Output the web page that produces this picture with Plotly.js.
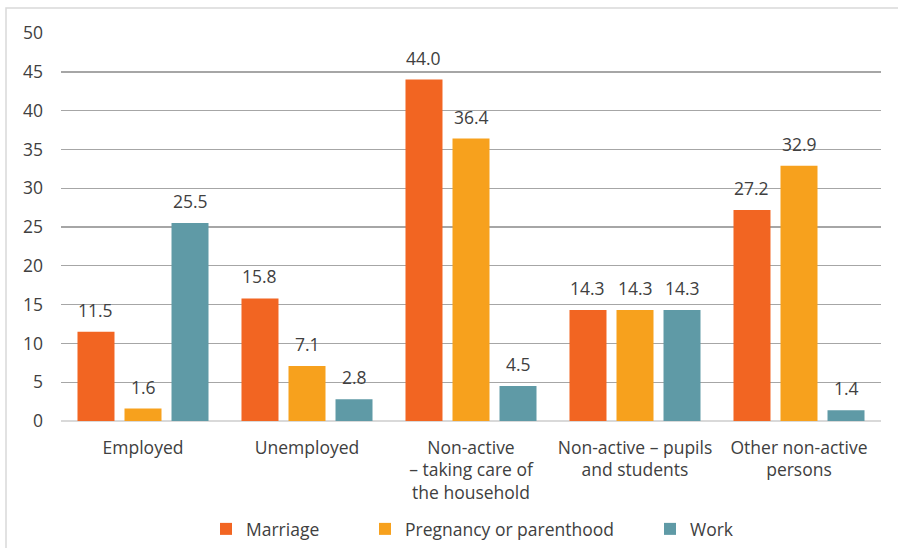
<!DOCTYPE html>
<html>
<head>
<meta charset="utf-8">
<script src="https://cdn.plot.ly/plotly-3.0.1.min.js"></script>
<style>html,body{margin:0;padding:0;background:#fff;}#chart{width:898px;height:548px;}</style>
</head>
<body>
<div id="chart"></div>
<script>
const categories = ["Employed", "Unemployed", "Non-active<br>– taking care of<br>the household", "Non-active – pupils<br>and students", "Other non-active<br>persons"];
const seriesNames = ["Marriage", "Pregnancy or parenthood", "Work"];
const marriage = [11.5, 15.8, 44.0, 14.3, 27.2];
const pregnancy = [1.6, 7.1, 36.4, 14.3, 32.9];
const work = [25.5, 2.8, 4.5, 14.3, 1.4];
const yTicks = [0, 5, 10, 15, 20, 25, 30, 35, 40, 45, 50];

const colors = ["#F26522", "#F7A11D", "#5F9AA6"];
const allSeries = [marriage, pregnancy, work];
const FONT = "Open Sans, sans-serif";
const TXT = "#404040";
const FS = 17.5;

const W = 898, H = 548;
const margin = {l: 61, r: 17, t: 33, b: 127, autoexpand: false};
const plotW = W - margin.l - margin.r;
const plotH = H - margin.t - margin.b;
const bargap = 0.14, bargroupgap = 0.213;
const slotPx = (plotW / categories.length) * (1 - bargap) / allSeries.length;

const legendNames = ["legend", "legend2", "legend3"];
const traces = allSeries.map((vals, i) => ({
  type: "bar",
  name: seriesNames[i],
  x: categories,
  y: vals,
  marker: {color: colors[i], line: {width: 0}},
  legend: legendNames[i],
  hoverinfo: "skip"
}));

const annotations = [];
allSeries.forEach((vals, i) => {
  vals.forEach((v, j) => {
    annotations.push({
      x: categories[j], y: v, xref: "x", yref: "y",
      text: v.toFixed(1), showarrow: false,
      xshift: (i - 1) * slotPx, yshift: 22, yanchor: "middle",
      font: {family: FONT, size: FS, color: TXT}
    });
  });
});

const legendTextX = [248, 407, 692];
const legends = {};
legendTextX.forEach((px, i) => {
  legends[legendNames[i]] = {
    orientation: "h",
    x: (px - 42 - margin.l) / plotW,
    xanchor: "left",
    y: (plotH - (529 - margin.t)) / plotH,
    yanchor: "middle",
    font: {family: FONT, size: FS, color: TXT},
    bgcolor: "rgba(0,0,0,0)",
    borderwidth: 0
  };
});

const layout = Object.assign({
  width: W, height: H,
  margin: margin,
  paper_bgcolor: "#fff",
  plot_bgcolor: "#fff",
  barmode: "group",
  bargap: bargap,
  bargroupgap: bargroupgap,
  font: {family: FONT, size: FS, color: TXT},
  showlegend: true,
  xaxis: {
    type: "category",
    automargin: false,
    showgrid: false,
    showline: false,
    ticks: "",
    ticklabelstandoff: 14,
    tickfont: {family: FONT, size: FS, color: TXT},
    fixedrange: true
  },
  yaxis: {
    range: [0, 50],
    automargin: false,
    tickvals: yTicks,
    ticktext: yTicks.map(String),
    showgrid: true,
    gridcolor: "#A6A6A6",
    gridwidth: 1.4,
    zeroline: true,
    zerolinecolor: "#D9D9D9",
    zerolinewidth: 2,
    showline: false,
    ticks: "",
    ticklabelstandoff: 17,
    tickfont: {family: FONT, size: FS, color: TXT},
    fixedrange: true
  },
  annotations: annotations,
  shapes: [{
    type: "rect", xref: "paper", yref: "paper",
    x0: (6 - margin.l) / plotW, x1: (905 - margin.l) / plotW,
    y0: (plotH - (555 - margin.t)) / plotH, y1: (plotH - (8 - margin.t)) / plotH,
    line: {color: "#D9D9D9", width: 1.5}, fillcolor: "rgba(0,0,0,0)", layer: "below"
  }]
}, legends);

Plotly.newPlot("chart", traces, layout, {displayModeBar: false, staticPlot: true});
</script>
</body>
</html>
